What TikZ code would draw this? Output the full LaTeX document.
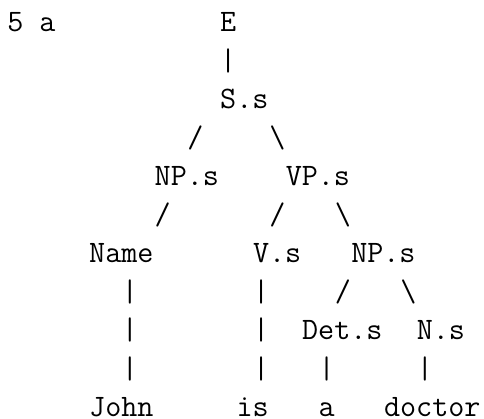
\documentclass[tikz,border=0pt]{standalone}
\usepackage{fontspec}
\begin{document}
\begin{tikzpicture}[x=16.38pt,y=-38.45pt,
  tok/.style={anchor=base west,inner sep=0pt,outer sep=0pt,
    font=\ttfamily\fontsize{31.2pt}{31.2pt}\selectfont}]
\useasboundingbox (0pt,0pt) rectangle (484pt,-419pt);
\begin{scope}[shift={(7.3pt,-32pt)}]
% row 0
\node[tok] (lab) at (0,0) {5 a};
\node[tok] (E) at (13,0) {E};
% row 1
\node[tok] (c1) at (13,1) {|};
% row 2
\node[tok] (S) at (13,2) {S.s};
% row 3
\node[tok] (c3a) at (11,3) {/};
\node[tok] (c3b) at (16,3) {\textbackslash};
% row 4
\node[tok] (NP1) at (9,4) {NP.s};
\node[tok] (VP) at (17,4) {VP.s};
% row 5
\node[tok] (c5a) at (9,5) {/};
\node[tok] (c5b) at (16,5) {/};
\node[tok] (c5c) at (20,5) {\textbackslash};
% row 6
\node[tok] (Name) at (5,6) {Name};
\node[tok] (V) at (15,6) {V.s};
\node[tok] (NP2) at (21,6) {NP.s};
% row 7
\node[tok] (c7a) at (7,7) {|};
\node[tok] (c7b) at (15,7) {|};
\node[tok] (c7c) at (20,7) {/};
\node[tok] (c7d) at (24,7) {\textbackslash};
% row 8
\node[tok] (c8a) at (7,8) {|};
\node[tok] (c8b) at (15,8) {|};
\node[tok] (Det) at (18,8) {Det.s};
\node[tok] (N) at (25,8) {N.s};
% row 9
\node[tok] (c9a) at (7,9) {|};
\node[tok] (c9b) at (15,9) {|};
\node[tok] (c9c) at (19,9) {|};
\node[tok] (c9d) at (25,9) {|};
% row 10
\node[tok] (John) at (5,10) {John};
\node[tok] (is) at (14,10) {is};
\node[tok] (a) at (19,10) {a};
\node[tok] (doctor) at (23,10) {doctor};
\end{scope}
\end{tikzpicture}
\end{document}
